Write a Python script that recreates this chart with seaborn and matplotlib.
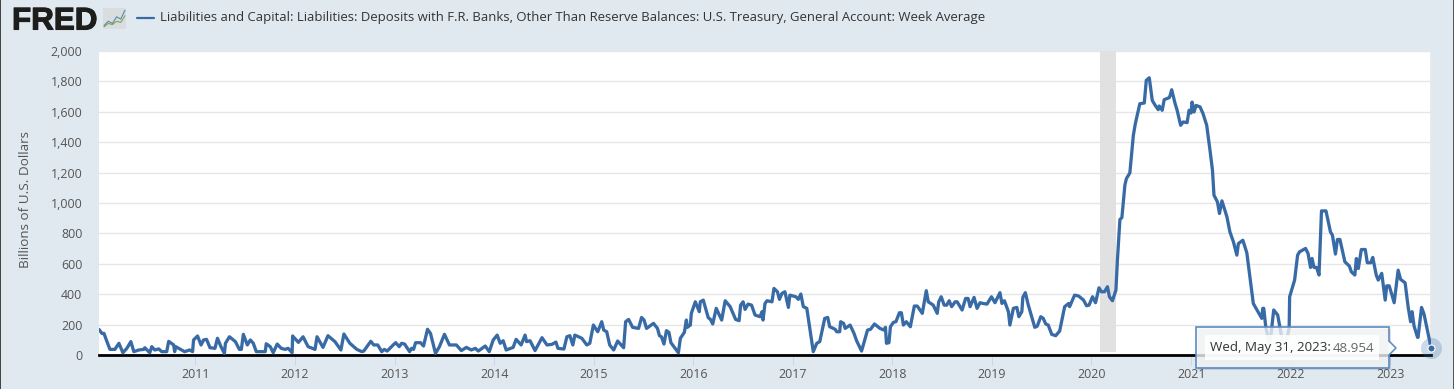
import numpy as np
import pandas as pd
import matplotlib
matplotlib.use("Agg")
import matplotlib.pyplot as plt
import matplotlib.patheffects as pe
from matplotlib.patches import Rectangle, FancyBboxPatch, Polygon
import seaborn as sns

# ---- data: fraction of the year, billions of dollars ----
t_2010 = [.00,.03,.05,.08,.11,.16,.20,.24,.28,.32,.35,.40,.45,.46,.51,.53,.56,.60,.63,.68,.70,.75,.76,.77,.83,.86,.91,.94,.95,.99]
v_2010 = [168,142,142,88,37,37,77,15,44,88,22,33,37,48,15,55,33,40,22,22,90,66,22,55,33,22,33,22,99,125]
t_2011 = [.025,.05,.08,.115,.165,.19,.225,.26,.27,.31,.37,.41,.43,.45,.49,.52,.55,.58,.67,.68,.72,.75,.79,.83,.87,.90,.94,.945]
v_2011 = [66,99,103,48,44,110,55,11,77,120,88,37,37,136,66,99,77,22,22,74,55,15,72,44,37,44,15,125]
t_2012 = [.003,.05,.10,.17,.19,.25,.30,.37,.43,.46,.52,.59,.64,.66,.73,.76,.80,.84,.865,.895,.955,.98]
v_2012 = [83,120,55,37,120,50,127,88,33,138,77,37,22,26,90,66,66,22,37,26,66,81]
t_2013 = [.016,.04,.07,.12,.14,.16,.18,.23,.26,.30,.33,.38,.42,.47,.52,.59,.64,.69,.74,.78,.81,.88,.92,.96]
v_2013 = [55,77,72,22,44,37,81,81,59,169,142,11,55,136,66,66,29,50,33,44,26,59,22,99]
t_2014 = [.00,.03,.06,.09,.16,.19,.24,.28,.295,.33,.38,.45,.50,.55,.59,.61,.67,.70,.73,.76,.78,.85,.90,.93,.966]
v_2014 = [131,77,94,33,50,103,66,131,88,94,29,114,66,70,85,44,39,120,127,66,131,110,66,77,197]
t_2015 = [.01,.05,.07,.10,.13,.17,.21,.27,.29,.32,.36,.42,.45,.475,.50,.57,.61,.63,.65,.675,.70,.725,.745,.82,.84,.88,.90,.91,.94,.95,.99]
v_2015 = [153,219,164,153,66,33,92,48,219,234,182,175,247,230,175,208,175,127,120,72,160,149,81,15,110,149,230,182,197,274,350]
t_2016 = [.03,.04,.07,.12,.14,.165,.20,.255,.29,.34,.395,.43,.445,.47,.49,.52,.555,.59,.64,.66,.67,.69,.71,.76,.78,.815,.835,.86,.89,.925,.94]
v_2016 = [285,350,361,245,236,204,307,230,357,318,234,226,328,350,300,335,328,263,252,285,230,339,357,350,438,416,366,405,416,313,394]
t_2017 = [.00,.025,.05,.075,.11,.175,.21,.24,.29,.32,.34,.395,.41,.44,.45,.48,.495,.545,.584,.61,.66,.72,.75,.79,.845,.885,.90,.91,.935,.95,.98]
v_2017 = [383,366,401,318,307,22,77,88,241,247,186,169,153,153,219,208,175,197,142,94,26,164,169,204,175,164,182,77,81,186,215]
t_2018 = [.005,.04,.06,.08,.11,.15,.19,.22,.27,.31,.33,.38,.42,.435,.46,.49,.515,.54,.565,.60,.62,.67,.705,.73,.75,.79,.82,.85,.88,.92,.965]
v_2018 = [219,278,278,197,219,186,322,322,274,423,350,328,274,350,383,328,328,357,318,350,350,296,372,372,318,379,307,344,339,335,383]
t_2019 = [.00,.05,.07,.095,.135,.15,.185,.22,.24,.27,.28,.305,.335,.40,.425,.46,.485,.51,.535,.57,.61,.65,.70,.74,.75,.80,.84,.89,.92,.945,.98]
v_2019 = [344,410,339,357,285,197,307,313,252,285,379,410,328,182,190,252,241,204,197,136,127,158,318,339,318,394,388,361,324,328,383]
t_2020 = [.01,.045,.07,.10,.13,.15,.18,.215,.23,.255,.275,.305,.32,.355,.39,.41,.455,.50,.52,.55,.58,.61,.64,.65,.68,.70,.75,.76,.775,.81,.83,.865,.89,.93,.95,.97,.98]
v_2020 = [344,442,416,416,449,383,357,427,624,891,904,1117,1160,1198,1445,1522,1653,1658,1807,1824,1675,1642,1614,1638,1610,1680,1693,1708,1745,1653,1610,1511,1533,1529,1610,1592,1664]
t_2021 = [.00,.02,.06,.09,.127,.16,.185,.20,.235,.255,.28,.33,.36,.395,.43,.445,.49,.53,.595,.68,.69,.70,.72,.76,.80,.84,.88,.91,.955,.96]
v_2021 = [1599,1642,1632,1588,1511,1347,1215,1051,1007,931,1014,909,810,745,657,733,755,672,339,241,307,307,186,60,296,263,120,40,175,383]
t_2022 = [.01,.04,.06,.12,.145,.17,.185,.205,.23,.255,.28,.325,.37,.39,.42,.44,.465,.515,.56,.58,.615,.63,.65,.68,.72,.74,.775,.795,.83,.85,.885,.92,.935,.96,.985]
v_2022 = [493,657,679,701,668,576,635,576,576,526,948,948,810,788,664,760,760,613,585,547,526,635,569,694,694,607,607,642,526,493,537,361,455,455,401]
t_2023 = [.01,.05,.075,.12,.15,.175,.19,.21,.245,.25,.285,.31,.38]
v_2023 = [344,558,497,475,318,219,285,190,116,116,313,269,48.954]

years = [2010, 2011, 2012, 2013, 2014, 2015, 2016, 2017, 2018, 2019, 2020, 2021, 2022, 2023]
fracs = [t_2010, t_2011, t_2012, t_2013, t_2014, t_2015, t_2016, t_2017, t_2018, t_2019, t_2020, t_2021, t_2022, t_2023]
vals = [v_2010, v_2011, v_2012, v_2013, v_2014, v_2015, v_2016, v_2017, v_2018, v_2019, v_2020, v_2021, v_2022, v_2023]

year_vals = [y + f for y, fr in zip(years, fracs) for f in fr]
val_vals = [v for vs in vals for v in vs]

y_ticks = [0, 200, 400, 600, 800, 1000, 1200, 1400, 1600, 1800, 2000]
x_years = list(range(2011, 2024))
TITLE = ("Liabilities and Capital: Liabilities: Deposits with F.R. Banks, Other Than "
         "Reserve Balances: U.S. Treasury, General Account: Week Average")
Y_LABEL = "Billions of U.S. Dollars"
logo_line_a = [1, 3, 2, 5, 4, 8]
logo_line_b = [0.5, 2, 1.5, 3, 2.5, 5.5]

# ---- styles ----
W, H = 1456, 389
BG = "#e1e9f0"
BLUE = "#386ba6"
FONT = ["Open Sans", "DejaVu Sans"]

def to_dates(yrs):
    # the readings were taken on an axis starting at the first observation
    arr = np.asarray(yrs, dtype=float) + 0.03
    return pd.Timestamp("2010-01-01") + pd.to_timedelta((arr - 2010) * 365.25, unit="D")

def fx(x): return x / W
def fy(y): return 1 - y / H

sns.set_theme(style="white")
plt.rcParams["font.family"] = FONT

df = pd.DataFrame({"date": to_dates(year_vals), "value": val_vals})

fig = plt.figure(figsize=(W / 100, H / 100), dpi=100, facecolor=BG)
ax = fig.add_axes([fx(99), fy(355), (1431 - 99) / W, (355 - 51) / H], facecolor="white")

sns.lineplot(data=df, x="date", y="value", color=BLUE, linewidth=2.35, sort=False,
             estimator=None, ax=ax, zorder=3, solid_joinstyle="round")

ax.axvspan(pd.Timestamp("2020-02-01"), pd.Timestamp("2020-04-01"), ymin=0.01, color="#e1e1e1", lw=0, zorder=1)
ax.set_ylim(0, 2000)
ax.set_xlim(df["date"].iloc[0], pd.Timestamp("2023-05-31"))
ax.set_yticks(y_ticks)
ax.set_yticklabels([f"{v:,}" for v in y_ticks])
ax.set_xticks([pd.Timestamp(f"{y}-01-01") for y in x_years])
ax.set_xticklabels([str(y) for y in x_years])
ax.grid(axis="y", color="#e6e6e6", lw=1.0, zorder=0)
ax.grid(axis="x", visible=False)
ax.set_axisbelow(True)
ax.tick_params(axis="x", length=7, width=0.8, color="#ccd6eb", labelsize=8.9, labelcolor="#555555", pad=2.5, bottom=True)
ax.tick_params(axis="y", length=0, labelsize=8.9, labelcolor="#555555", pad=12)
ax.set_xlabel("")
ax.set_ylabel("")
for s in ["top", "left"]:
    ax.spines[s].set_visible(False)
ax.spines["right"].set_color("#e6e8ea")
ax.spines["right"].set_linewidth(1.2)
ax.spines["bottom"].set_color("black")
ax.spines["bottom"].set_linewidth(2.0)

# end marker
last_x, last_y = df["date"].iloc[-1], df["value"].iloc[-1]
ax.scatter([last_x], [last_y], s=230, color=BLUE, alpha=0.25, lw=0, clip_on=False, zorder=6)
ax.scatter([last_x], [last_y], s=26, color=BLUE, edgecolor="white", lw=0.8, clip_on=False, zorder=7)

# header
fig.text(fx(26), fy(200), Y_LABEL, rotation=90, ha="center", va="center", fontsize=9.7, color="#555555")
fig.add_artist(plt.Line2D([fx(137), fx(154)], [fy(18), fy(18)], color=BLUE, lw=1.6))
fig.text(fx(160), fy(18), TITLE, ha="left", va="center", fontsize=9.45, color="#333333")

# logo
fig.text(fx(12), fy(29.5), "FRED", ha="left", va="baseline", fontsize=22.6, fontweight="bold",
         family="Liberation Sans", color="#1d1d1b",
         path_effects=[pe.withStroke(linewidth=0.8, foreground="#1d1d1b")])
iax = fig.add_axes([fx(103), fy(29), 23 / W, 21 / H], facecolor="#d9dde0")
iax.plot(logo_line_a, color="#5a87a8", lw=0.8)
iax.plot(logo_line_b, color="#7fa650", lw=0.8)
iax.set_xticks([]); iax.set_yticks([])
iax.set_ylim(-0.5, 9)
for s in iax.spines.values():
    s.set_visible(False)

# frame edges of the screenshot
fig.add_artist(Rectangle((0, 0), fx(1.2), 1, transform=fig.transFigure, color="#444444", lw=0, zorder=1))
fig.add_artist(Rectangle((fx(1453), 0), fx(1), 1, transform=fig.transFigure, color="#555555", lw=0, zorder=1))
fig.add_artist(Rectangle((fx(1454), 0), fx(2), 1, transform=fig.transFigure, color="white", lw=0, zorder=1))

# tooltip
L, R, T, B = 1196, 1389, 327, 368
shadow = FancyBboxPatch((fx(L + 1.5), fy(B + 1.5)), fx(R - L), (B - T) / H, boxstyle="square,pad=0",
                        transform=fig.transFigure, fc="#000000", ec="none", alpha=0.12, zorder=8)
box = FancyBboxPatch((fx(L), fy(B)), fx(R - L), (B - T) / H, boxstyle="square,pad=0",
                     transform=fig.transFigure, fc=(0.97, 0.975, 0.985, 0.78), ec="#5b8bc0", lw=1.2, zorder=9)
arrow = Polygon([(fx(R - 1), fy(341)), (fx(R + 7), fy(348)), (fx(R - 1), fy(355))], closed=True,
                transform=fig.transFigure, fc="#f7f8fa", ec="none", zorder=9.5)
arrow_edge = plt.Line2D([fx(R), fx(R + 7), fx(R)], [fy(341), fy(348), fy(355)], color="#5b8bc0", lw=1.1, zorder=9.6)
inner = Rectangle((fx(1205), fy(360)), fx(174), 25 / H, transform=fig.transFigure,
                  fc="white", ec="none", alpha=0.85, zorder=10)
for p in (shadow, box, arrow, arrow_edge, inner):
    fig.add_artist(p)
fig.text(fx(1210), fy(348), "Wed, May 31, 2023:", ha="left", va="center", fontsize=9.6, color="#333333", zorder=11)
fig.text(fx(1374), fy(348), "48.954", ha="right", va="center", fontsize=9.6, color="#666666", zorder=11)

fig.savefig("out.png", dpi=100, facecolor=BG)
